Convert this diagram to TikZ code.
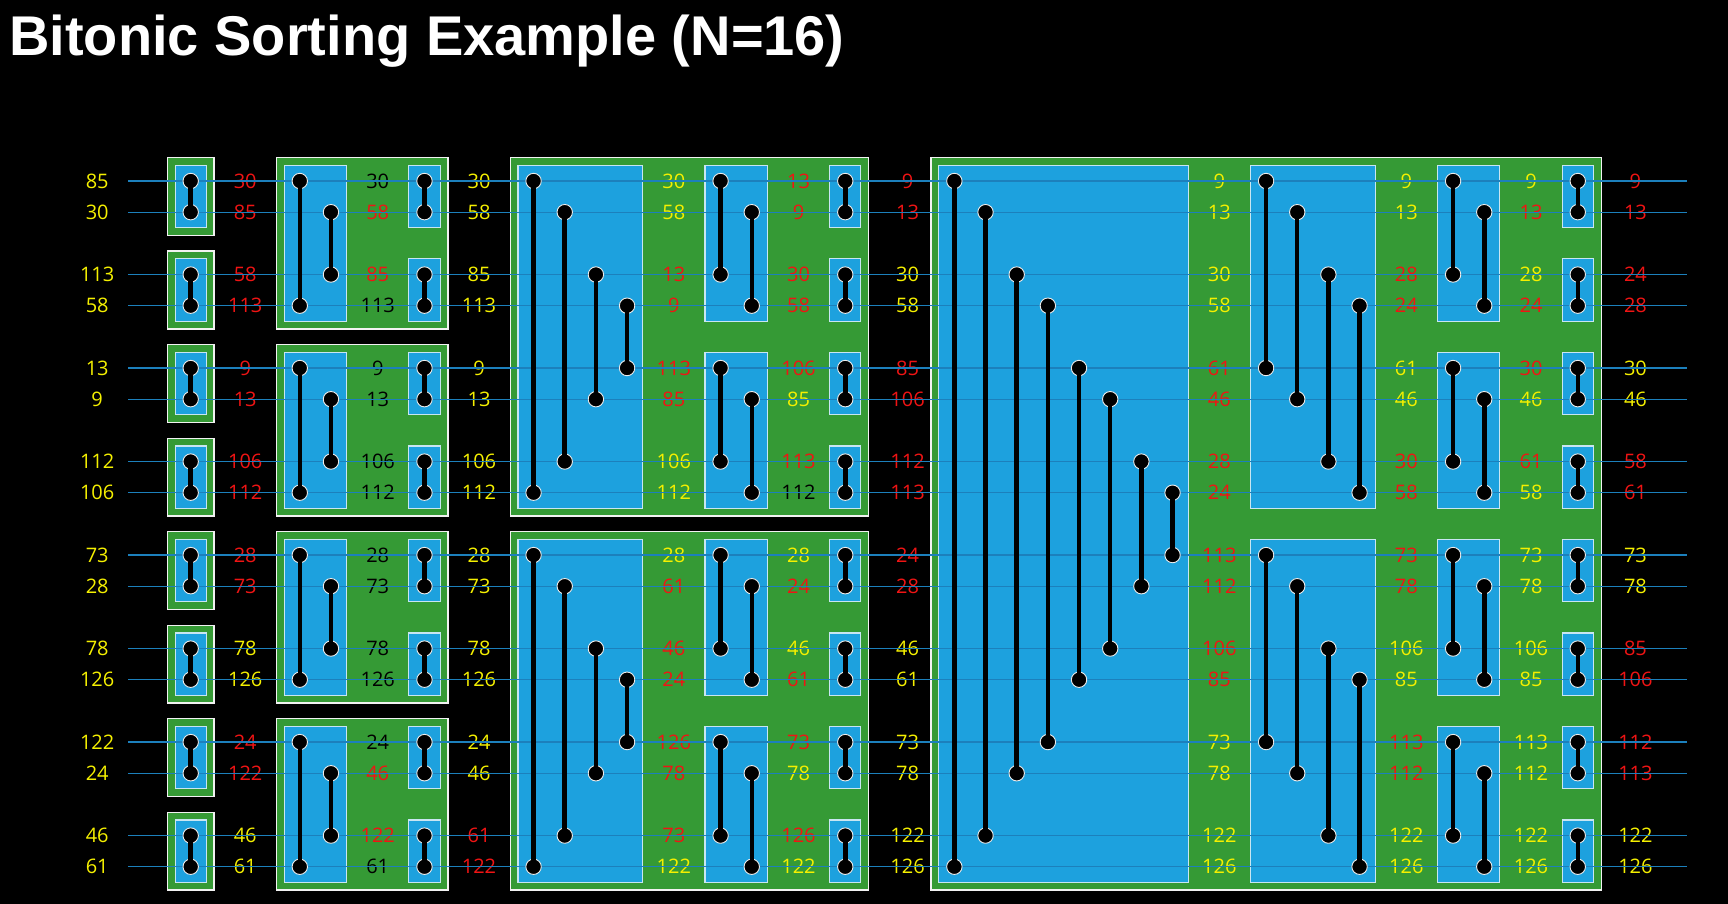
\documentclass[tikz,border=0pt]{standalone}
\usepackage{fontspec}
\setmainfont{Open Sans}
\newfontfamily\headfont{Liberation Sans}
\usetikzlibrary{positioning}
\definecolor{stagegreen}{RGB}{53,154,53}
\definecolor{cleanblue}{RGB}{29,161,222}
\definecolor{cleanedge}{RGB}{200,230,242}
\definecolor{wireblue}{RGB}{28,128,188}
\definecolor{valY}{RGB}{245,240,0}
\definecolor{valR}{RGB}{240,20,20}
\definecolor{valK}{RGB}{0,0,0}

\begin{document}
\begin{tikzpicture}[x=31.17pt, y=-31.17pt,
    stagebox/.style={fill=stagegreen, draw=white!90!gray, line width=1.3pt},
    cleanbox/.style={fill=cleanblue, draw=cleanedge, line width=1.1pt},
    wire/.style={draw=wireblue, line width=1.2pt},
    val/.style={font=\fontsize{20}{20}\selectfont, anchor=base, yshift=-7.2pt, inner sep=0pt},
    dot/.style={circle, fill=black, draw=white!85!gray, line width=0.9pt, minimum size=15.4pt, inner sep=0pt},
    bar/.style={line width=4.5pt, black}]
  % canvas
  \fill[black] (-6.118,-5.807) rectangle (49.320,23.195);
  \useasboundingbox (-6.118,-5.807) rectangle (49.320,23.195);
  \node[anchor=base west, inner sep=0pt, text=white, font=\headfont\bfseries\fontsize{56}{56}\selectfont]
    (title) at (-5.83,-4.036) {Bitonic Sorting Example (N=16)};
  % merge stages
  \foreach \p in {0,...,7}
    \draw[stagebox] (-0.75,{3*\p-0.75}) rectangle (0.75,{3*\p+1.75});
  \foreach \q in {0,...,3}
    \draw[stagebox] (2.75,{6*\q-0.75}) rectangle (8.25,{6*\q+4.75});
  \foreach \h in {0,1}
    \draw[stagebox] (10.25,{12*\h-0.75}) rectangle (21.75,{12*\h+10.75});
  \draw[stagebox] (23.75,-0.75) rectangle (45.25,22.75);
  % half cleaners: x of first comparator / size / flip
  \def\cleaners{0/2/1, 3.5/4/1, 7.5/2/0, 11/8/1, 17/4/0, 21/2/0, 24.5/16/1, 34.5/8/0, 40.5/4/0, 44.5/2/0}
  \foreach \x/\n/\fl in \cleaners {
    \pgfmathtruncatemacro{\half}{\n/2}
    \pgfmathtruncatemacro{\last}{16/\n-1}
    \foreach \b in {0,...,\last} {
      \pgfmathtruncatemacro{\ytop}{\b*\n+int(\b*\n/2)}
      \pgfmathtruncatemacro{\ybot}{(\b+1)*\n-1+int(((\b+1)*\n-1)/2)}
      \draw[cleanbox] ({\x-0.5},{\ytop-0.5}) rectangle ({\x+\half-0.5},{\ybot+0.5});
    }
  }
  % values
  \foreach \x/\vals [count=\c] in {
      -3/{85/valY,30/valY,113/valY,58/valY,13/valY,9/valY,112/valY,106/valY,73/valY,28/valY,78/valY,126/valY,122/valY,24/valY,46/valY,61/valY},
      1.75/{30/valR,85/valR,58/valR,113/valR,9/valR,13/valR,106/valR,112/valR,28/valR,73/valR,78/valY,126/valY,24/valR,122/valR,46/valY,61/valY},
      6/{30/valK,58/valR,85/valR,113/valK,9/valK,13/valK,106/valK,112/valK,28/valK,73/valK,78/valK,126/valK,24/valK,46/valR,122/valR,61/valK},
      9.25/{30/valY,58/valY,85/valY,113/valY,9/valY,13/valY,106/valY,112/valY,28/valY,73/valY,78/valY,126/valY,24/valY,46/valY,61/valR,122/valR},
      15.5/{30/valY,58/valY,13/valR,9/valR,113/valR,85/valR,106/valY,112/valY,28/valY,61/valR,46/valR,24/valR,126/valR,78/valR,73/valR,122/valY},
      19.5/{13/valR,9/valR,30/valR,58/valR,106/valR,85/valY,113/valR,112/valK,28/valY,24/valR,46/valY,61/valR,73/valR,78/valY,126/valR,122/valY},
      23/{9/valR,13/valR,30/valY,58/valY,85/valR,106/valR,112/valR,113/valR,24/valR,28/valR,46/valY,61/valY,73/valY,78/valY,122/valY,126/valY},
      33/{9/valY,13/valY,30/valY,58/valY,61/valR,46/valR,28/valR,24/valR,113/valR,112/valR,106/valR,85/valR,73/valY,78/valY,122/valY,126/valY},
      39/{9/valY,13/valY,28/valR,24/valR,61/valY,46/valY,30/valR,58/valR,73/valR,78/valR,106/valY,85/valY,113/valR,112/valR,122/valY,126/valY},
      43/{9/valY,13/valR,28/valY,24/valR,30/valR,46/valY,61/valR,58/valY,73/valY,78/valY,106/valY,85/valY,113/valY,112/valY,122/valY,126/valY},
      46.35/{9/valR,13/valR,24/valR,28/valR,30/valY,46/valY,58/valR,61/valR,73/valY,78/valY,85/valR,106/valR,112/valR,113/valR,122/valY,126/valY}} {
    \foreach \v/\col [count=\k from 0] in \vals {
      \pgfmathtruncatemacro{\yk}{\k+int(\k/2)}
      \node[val, text=\col] (v\c-\k) at (\x,\yk) {\v};
    }
  }
  % wires
  \foreach \k in {0,...,15} {
    \pgfmathtruncatemacro{\yk}{\k+int(\k/2)}
    \coordinate (ws\k) at (-2,\yk);
    \coordinate (we\k) at (48,\yk);
    \draw[wire] (ws\k) -- (we\k);
  }
  % comparators
  \foreach \x/\n/\fl [count=\s] in \cleaners {
    \pgfmathtruncatemacro{\half}{\n/2}
    \pgfmathtruncatemacro{\last}{16/\n-1}
    \foreach \b in {0,...,\last}
      \foreach \i in {1,...,\half} {
        \pgfmathtruncatemacro{\ra}{\b*\n+\i-1}
        \pgfmathtruncatemacro{\rb}{\fl*(\b*\n+\n-\i)+(1-\fl)*(\ra+\half)}
        \pgfmathtruncatemacro{\ya}{\ra+int(\ra/2)}
        \pgfmathtruncatemacro{\yb}{\rb+int(\rb/2)}
        \node[dot] (p\s-\ra) at ({\x+\i-1},\ya) {};
        \node[dot] (p\s-\rb) at ({\x+\i-1},\yb) {};
        \draw[bar] (p\s-\ra.center) -- (p\s-\rb.center);
      }
  }
\end{tikzpicture}
\end{document}
